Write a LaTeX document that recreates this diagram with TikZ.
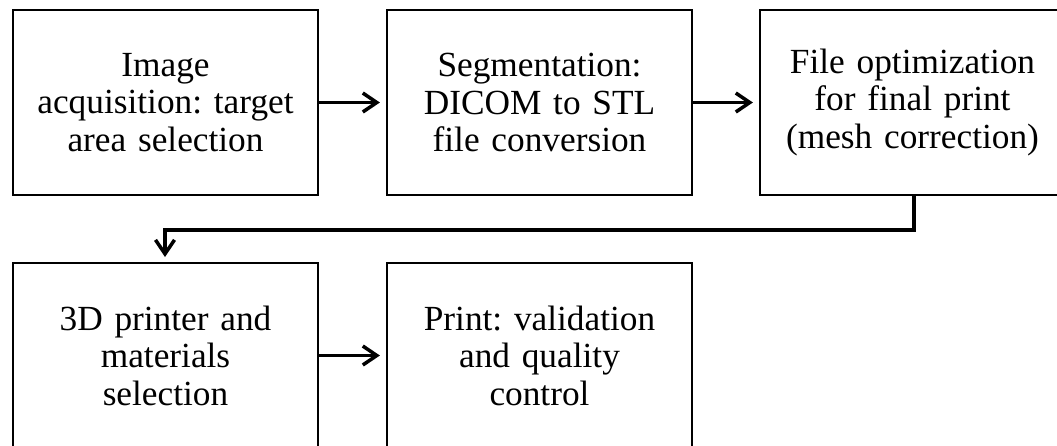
\documentclass[tikz,border=0pt]{standalone}
\usepackage{fontspec}
\setmainfont{Liberation Serif}
\usetikzlibrary{arrows.meta}
\begin{document}
\begin{tikzpicture}[x=1pt,y=-1pt,
  stepbox/.style={draw=black, line width=2.2pt, minimum width=305pt, minimum height=185pt,
    inner sep=0pt, align=center, font=\fontsize{35.3}{37.5}\selectfont\frenchspacing, text width=300pt},
  conn/.style={line width=3.5pt, -{Straight Barb[length=14pt,width=19pt,line width=3.5pt]}}]
\useasboundingbox (0,0) rectangle (1057,445);
\clip (0,0) rectangle (1057,445);
\node[stepbox] (b1) at (165.5,102.5) {Image\\acquisition: target\\area selection};
\node[stepbox] (b2) at (539.5,102.5) {Segmentation:\\DICOM to STL\\file conversion};
\node[stepbox] (b3) at (912.5,102.5) {File optimization\\for final print\\(mesh correction)};
\node[stepbox] (b4) at (165.5,355.5) {3D printer and\\materials\\selection};
\node[stepbox] (b5) at (539.5,355.5) {Print: validation\\and quality\\control};
\draw[conn] (b1.east) -- ([xshift=-6pt]b2.west);
\draw[conn] (b2.east) -- ([xshift=-6pt]b3.west);
\draw[conn] (b4.east) -- ([xshift=-6pt]b5.west);
\coordinate (k1) at (914,230);
\coordinate (k2) at (165,230);
\coordinate (k3) at (165,257);
\draw[conn] (b3.south -| k1) -- (k1) -- (k2) -- (k3);
\end{tikzpicture}
\end{document}
